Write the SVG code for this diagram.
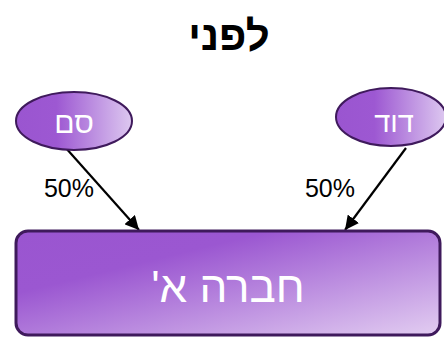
<svg xmlns="http://www.w3.org/2000/svg" width="444" height="337" viewBox="0 0 444 337">
<defs>
<linearGradient id="gE" x1="0" y1="0" x2="1" y2="0">
<stop offset="0" stop-color="#9a55d0"/>
<stop offset="0.35" stop-color="#9d58d2"/>
<stop offset="1" stop-color="#ddc8f0"/>
</linearGradient>
<linearGradient id="gR" x1="0" y1="0" x2="1" y2="1">
<stop offset="0" stop-color="#9a55d0"/>
<stop offset="0.3" stop-color="#9b57d1"/>
<stop offset="1" stop-color="#e2cdf1"/>
</linearGradient>
<marker id="arr" markerWidth="14" markerHeight="14" refX="10" refY="5" orient="auto" markerUnits="userSpaceOnUse" viewBox="0 0 10 10">
<path d="M0,0 L10,5 L0,10 Z" fill="#000"/>
</marker>
<style>
.node{stroke:#3f1a5c;stroke-width:2}
.lbl{font-family:"Liberation Sans","DejaVu Sans",sans-serif;fill:#fff;text-anchor:middle}
.pct{font-family:"Liberation Sans","DejaVu Sans",sans-serif;font-size:25px;fill:#000;text-anchor:middle}
.edge{stroke:#000;stroke-width:2.2;fill:none;marker-end:url(#arr)}
</style>
</defs>
<rect width="444" height="337" fill="#fff"/>
<text x="229" y="50" direction="rtl" font-family="'Liberation Sans','DejaVu Sans',sans-serif" font-size="42" font-weight="bold" text-anchor="middle" fill="#000">לפני</text>
<g id="connectors">
<line class="edge" x1="65" y1="147" x2="139" y2="230"/>
<text class="pct" x="69" y="197">50%</text>
<line class="edge" x1="406" y1="148" x2="345" y2="230"/>
<text class="pct" x="330" y="197">50%</text>
</g>
<g id="node-sam">
<ellipse class="node" cx="74" cy="121" rx="58" ry="29" fill="url(#gE)"/>
<text class="lbl" x="74" y="133" font-size="30" direction="rtl">סם</text>
</g>
<g id="node-david">
<ellipse class="node" cx="391" cy="117" rx="55" ry="29" fill="url(#gE)"/>
<text class="lbl" x="394" y="132" font-size="29" direction="rtl">דוד</text>
</g>
<g id="node-company">
<rect x="16" y="231" width="424" height="104" rx="12" fill="url(#gR)" stroke="#3f1a5c" stroke-width="3"/>
<text class="lbl" x="228" y="302" font-size="44" direction="rtl">חברה א'</text>
</g>
</svg>
